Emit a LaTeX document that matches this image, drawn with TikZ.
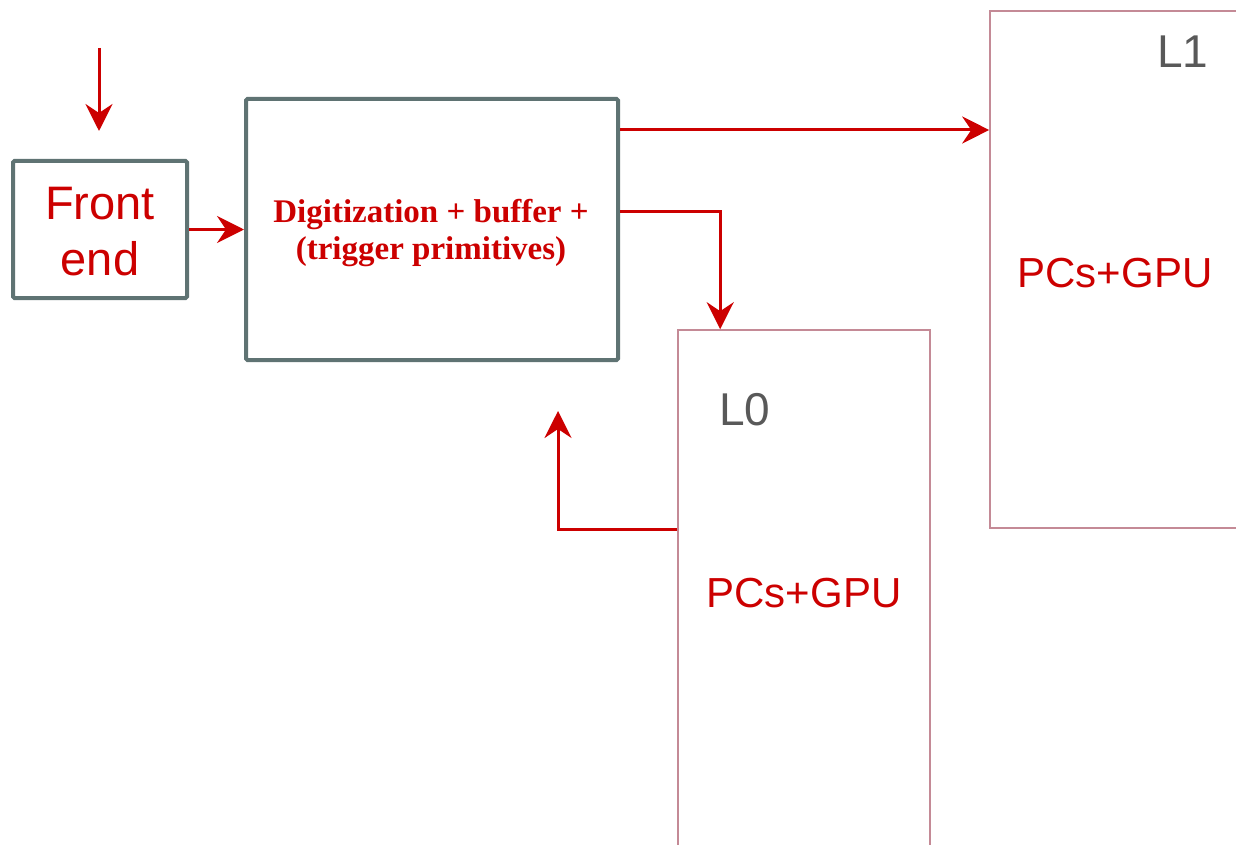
\documentclass[tikz,border=0pt]{standalone}
\usepackage{fontspec}
\setmainfont{Liberation Sans}
\newfontfamily\serifbold{Liberation Serif}
\usetikzlibrary{arrows.meta,calc}
\definecolor{fered}{HTML}{CC0000}
\definecolor{boxgray}{HTML}{5F7373}
\definecolor{pinkline}{HTML}{C48A96}
\definecolor{txtgray}{HTML}{595959}
\begin{document}
\begin{tikzpicture}[x=1pt,y=-1pt,
  graybox/.style={draw=boxgray,line width=4pt,rounded corners=1.5pt,inner sep=0pt},
  pinkbox/.style={draw=pinkline,line width=1.6pt,inner sep=0pt},
  arr/.style={draw=fered,line width=3pt,-{Stealth[length=27pt,width=27pt,inset=9pt]}},
  lvl/.style={text=txtgray,font=\fontsize{46}{46}\selectfont,inner sep=0pt},
  pcs/.style={text=fered,font=\fontsize{42}{42}\selectfont,inner sep=0pt}]
\useasboundingbox (0,0) rectangle (1236,845);
\clip (0,0) rectangle (1236,845);
% boxes
\node[graybox,minimum width=174pt,minimum height=137pt] (fe) at (100,229.5) {};
\node[text=fered,align=center,font=\fontsize{47}{56}\selectfont] (fetxt) at (100,232) {Front\\end};
\node[graybox,minimum width=372pt,minimum height=261pt] (dig) at (432,229.5) {};
\node[text=fered,align=center,font=\serifbold\bfseries\fontsize{33}{37}\selectfont] (digtxt) at (431,233) {Digitization + buffer +\\(trigger primitives)};
\node[pinkbox,minimum width=252pt,minimum height=560pt] (l0) at (804,610) {};
\node[pinkbox,minimum width=270pt,minimum height=517pt] (l1) at (1125,269.5) {};
\node[lvl,anchor=base west] (l1lab) at (1157,68) {L1};
\node[lvl,anchor=base west] (l0lab) at (719,425) {L0};
\node[pcs,anchor=base] (l1pcs) at (1115,287) {PCs+GPU};
\node[pcs,anchor=base] (l0pcs) at (804,607) {PCs+GPU};
% connectors
\coordinate (in) at (99,48);
\coordinate (inend) at (99,131);
\coordinate (fb) at (558,411);
\draw[arr] (in) -- (inend);
\draw[arr] (fe.east) -- (dig.west);
\draw[arr] (dig.east |- 0,130) -- (l1.west |- 0,130);
\draw[arr] (dig.east |- 0,211) -| ([xshift=43pt]l0.north west);
\draw[arr] (l0.west |- 0,529) -| (fb);
\end{tikzpicture}
\end{document}
